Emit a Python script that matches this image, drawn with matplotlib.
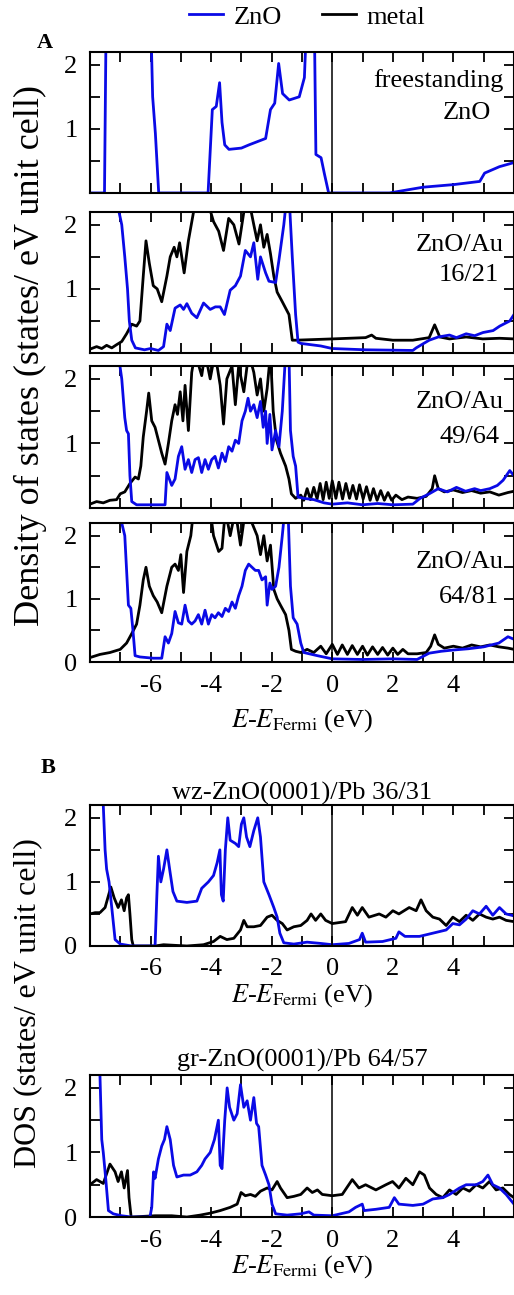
import matplotlib
matplotlib.use('Agg')
import matplotlib.pyplot as plt
from matplotlib.lines import Line2D

plt.rcParams['font.family'] = ['Liberation Serif', 'DejaVu Serif']
plt.rcParams['mathtext.fontset'] = 'stix'
plt.rcParams['axes.unicode_minus'] = False

BLUE = '#0a0ae6'

# ---- panel A1: freestanding ZnO ----
e_free = [-8.0, -7.52, -7.44, -6.06, -5.93, -5.84, -5.73, -4.10, -3.96, -3.83, -3.72, -3.64, -3.55,
          -3.41, -3.0, -2.75, -2.2, -2.04, -1.90, -1.77, -1.64, -1.42, -1.09, -0.92, -0.82, -0.60,
          -0.54, -0.37, -0.26, -0.12, 1.89, 3.0, 4.0, 4.87, 5.03, 5.52, 5.97]
zno_free = [0.0, 0.0, 4.0, 4.0, 1.5, 0.93, 0.0, 0.0, 1.3, 1.35, 1.72, 1.1, 0.75,
            0.68, 0.7, 0.75, 0.85, 1.3, 1.4, 2.02, 1.55, 1.45, 1.5, 1.8, 3.0, 3.0,
            0.6, 0.55, 0.3, 0.0, 0.0, 0.09, 0.13, 0.18, 0.31, 0.41, 0.47]

# ---- panel A2: ZnO/Au 16/21 ----
e_au1_zno = [-8.0, -7.04, -6.95, -6.85, -6.76, -6.70, -6.62, -6.50, -6.20, -6.00, -5.74, -5.57, -5.46,
             -5.35, -5.19, -5.02, -4.91, -4.80, -4.64, -4.47, -4.25, -4.03, -3.86, -3.70, -3.56, -3.37,
             -3.20, -3.03, -2.87, -2.70, -2.59, -2.46, -2.37, -2.20, -2.09, -1.87, -1.76, -1.60, -1.51,
             -1.42, -1.32, -1.21, -1.13, -1.04, -0.38, 0.0, 1.1, 2.66, 2.77, 3.2, 3.5, 3.87, 4.1, 4.42,
             4.7, 4.98, 5.31, 5.53, 5.86, 6.0]
zno_au1 = [4.0, 2.2, 2.0, 1.5, 1.0, 0.5, 0.2, 0.08, 0.05, 0.07, 0.04, 0.1, 0.45,
           0.35, 0.7, 0.75, 0.68, 0.77, 0.62, 0.55, 0.78, 0.68, 0.72, 0.72, 0.6, 0.98,
           1.05, 1.2, 1.6, 1.5, 1.72, 1.15, 1.5, 1.25, 1.12, 1.1, 1.45, 2.0, 2.4,
           2.4, 1.5, 0.6, 0.17, 0.15, 0.11, 0.07, 0.05, 0.04, 0.08, 0.2, 0.25, 0.28, 0.24, 0.3,
           0.27, 0.32, 0.35, 0.42, 0.5, 0.6]
e_au1_met = [-8.0, -7.78, -7.61, -7.45, -7.28, -7.12, -6.95, -6.79, -6.62, -6.46, -6.35, -6.24, -6.15,
             -6.04, -5.91, -5.78, -5.63, -5.46, -5.35, -5.22, -5.13, -5.04, -4.89, -4.75, -4.58, -4.36,
             -4.14, -3.92, -3.75, -3.59, -3.42, -3.25, -3.08, -2.92, -2.76, -2.59, -2.48, -2.37, -2.26,
             -2.15, -2.04, -1.93, -1.82, -1.65, -1.54, -1.43, -1.32, -1.21, 0.0, 1.1, 1.3, 1.44, 2.0,
             2.66, 3.2, 3.38, 3.55, 3.87, 4.42, 4.97, 5.52, 6.0]
met_au1 = [0.06, 0.1, 0.07, 0.12, 0.08, 0.13, 0.18, 0.3, 0.45, 0.42, 0.5, 1.2, 1.75,
           1.4, 1.05, 1.0, 0.8, 1.2, 1.5, 1.65, 1.5, 1.72, 1.25, 1.75, 2.2, 2.4,
           2.4, 2.05, 1.9, 1.6, 2.1, 2.0, 1.7, 2.2, 2.4, 2.0, 1.75, 2.0, 1.65,
           1.85, 1.55, 1.2, 0.95, 0.8, 0.7, 0.6, 0.2, 0.2, 0.22, 0.24, 0.28, 0.23, 0.2,
           0.2, 0.24, 0.44, 0.25, 0.22, 0.25, 0.22, 0.23, 0.22]

# ---- panel A3: ZnO/Au 49/64 ----
e_au2_zno = [-8.0, -7.01, -6.95, -6.85, -6.79, -6.73, -6.68, -6.62, -6.46, -5.52, -5.46, -5.30, -5.19,
             -5.08, -4.97, -4.86, -4.75, -4.64, -4.53, -4.42, -4.31, -4.20, -4.09, -3.98, -3.87, -3.76,
             -3.64, -3.53, -3.42, -3.31, -3.20, -3.09, -2.98, -2.87, -2.78, -2.70, -2.59, -2.48, -2.37,
             -2.28, -2.20, -2.15, -2.06, -1.99, -1.87, -1.76, -1.65, -1.54, -1.43, -1.38, -1.29, -1.21,
             -1.13, -0.94, -0.61, -0.27, 0.0, 0.5, 1.0, 1.5, 2.0, 2.66, 2.9, 3.2, 3.5, 3.8, 4.1, 4.4,
             4.7, 4.9, 5.2, 5.45, 5.64, 5.86, 6.0]
zno_au2 = [4.0, 2.2, 2.0, 1.4, 1.2, 1.15, 0.5, 0.1, 0.05, 0.05, 0.55, 0.35, 0.45,
           0.8, 0.95, 0.6, 0.75, 0.55, 0.75, 0.78, 0.55, 0.75, 0.6, 0.75, 0.8, 0.62,
           0.85, 0.72, 0.95, 0.88, 1.05, 1.0, 1.35, 1.5, 1.7, 1.5, 1.6, 1.4, 1.65,
           1.25, 1.5, 1.0, 1.45, 0.9, 1.2, 0.95, 1.5, 2.4, 2.4, 1.2, 0.8, 0.65,
           0.17, 0.15, 0.13, 0.08, 0.06, 0.08, 0.05, 0.07, 0.05, 0.06, 0.15, 0.22, 0.3, 0.25, 0.32, 0.26,
           0.3, 0.27, 0.3, 0.35, 0.43, 0.58, 0.5]
e_au2_met = [-8.0, -7.78, -7.56, -7.34, -7.12, -7.0, -6.85, -6.68, -6.51, -6.40, -6.32, -6.24, -6.13,
             -6.06, -5.96, -5.85, -5.74, -5.63, -5.52, -5.41, -5.30, -5.19, -5.11, -5.02, -4.93, -4.86,
             -4.75, -4.64, -4.53, -4.31, -4.20, -4.03, -3.87, -3.70, -3.59, -3.48, -3.31, -3.20, -3.09,
             -2.92, -2.76, -2.59, -2.48, -2.37, -2.26, -2.15, -2.04, -1.95, -1.84, -1.71, -1.54, -1.43,
             -1.35, -1.21, -1.04, -0.94, -0.83, -0.72, -0.61, -0.50, -0.40, -0.30, -0.20, -0.10, 0.0,
             0.12, 0.22, 0.34, 0.45, 0.57, 0.68, 0.80, 0.90, 1.02, 1.13, 1.25, 1.36, 1.48, 1.60, 1.72,
             1.84, 1.96, 2.1, 2.3, 2.5, 2.8, 3.1, 3.3, 3.38, 3.5, 3.7, 4.0, 4.3, 4.6, 4.9, 5.2, 5.5,
             5.8, 6.0]
met_au2 = [0.06, 0.1, 0.08, 0.12, 0.13, 0.22, 0.25, 0.38, 0.48, 0.45, 0.65, 1.1, 1.5,
           1.78, 1.35, 1.25, 1.05, 0.85, 0.68, 1.0, 1.35, 1.6, 1.45, 1.8, 1.35, 1.9,
           1.2, 2.1, 2.4, 2.05, 2.4, 2.0, 2.4, 1.9, 1.3, 2.0, 2.2, 1.6, 2.2,
           1.8, 2.4, 2.1, 1.75, 2.0, 1.5, 1.85, 2.4, 1.5, 1.05, 0.85, 0.65, 0.45,
           0.22, 0.15, 0.2, 0.12, 0.3, 0.13, 0.32, 0.14, 0.38, 0.13, 0.4, 0.15, 0.42,
           0.15, 0.40, 0.14, 0.38, 0.15, 0.35, 0.14, 0.36, 0.14, 0.33, 0.12, 0.3, 0.12, 0.27, 0.12,
           0.24, 0.12, 0.2, 0.13, 0.17, 0.15, 0.18, 0.3, 0.5, 0.3, 0.25, 0.28, 0.24, 0.27, 0.23, 0.25, 0.2,
           0.24, 0.26]

# ---- panel A4: ZnO/Au 64/81 ----
e_au3_zno = [-8.0, -6.95, -6.85, -6.73, -6.65, -6.58, -6.51, -6.35, -5.91, -5.63, -5.52, -5.41, -5.30,
             -5.19, -5.08, -4.97, -4.86, -4.75, -4.64, -4.53, -4.42, -4.31, -4.20, -4.09, -3.98, -3.87,
             -3.76, -3.64, -3.53, -3.42, -3.31, -3.20, -3.09, -2.98, -2.87, -2.76, -2.65, -2.54, -2.43,
             -2.32, -2.20, -2.15, -2.06, -1.99, -1.87, -1.76, -1.65, -1.57, -1.46, -1.38, -1.29, -1.16,
             -1.04, -0.94, -0.49, 0.0, 1.0, 2.0, 2.8, 3.2, 3.6, 4.0, 4.5, 5.0, 5.5, 5.8, 6.0]
zno_au3 = [4.0, 2.2, 2.0, 0.9, 0.85, 0.5, 0.1, 0.08, 0.06, 0.06, 0.4, 0.3, 0.45,
           0.8, 0.62, 0.6, 0.9, 0.65, 0.6, 0.65, 0.75, 0.6, 0.82, 0.6, 0.75, 0.7,
           0.78, 0.72, 0.85, 0.8, 0.95, 0.85, 1.05, 1.2, 1.45, 1.55, 1.5, 1.45, 1.45,
           1.3, 1.35, 0.9, 1.25, 1.15, 1.2, 1.5, 2.0, 2.4, 2.4, 1.2, 0.7, 0.6,
           0.3, 0.15, 0.1, 0.05, 0.04, 0.05, 0.04, 0.14, 0.17, 0.19, 0.21, 0.24, 0.3, 0.4, 0.36]
e_au3_met = [-8.0, -7.67, -7.34, -7.0, -6.79, -6.62, -6.46, -6.35, -6.24, -6.15, -6.04, -5.91, -5.78,
             -5.63, -5.46, -5.30, -5.19, -5.08, -5.00, -4.91, -4.80, -4.67, -4.58, -4.03, -3.92, -3.75,
             -3.64, -3.53, -3.37, -3.20, -3.03, -2.87, -2.65, -2.48, -2.37, -2.26, -2.15, -2.04, -1.93,
             -1.82, -1.71, -1.54, -1.43, -1.35, -1.21, -1.04, -0.83, -0.61, -0.38, -0.20, 0.0,
             0.17, 0.33, 0.5, 0.66, 0.83, 1.0, 1.16, 1.33, 1.5, 1.66, 1.83, 2.0, 2.16, 2.33, 2.5, 2.8,
             3.1, 3.25, 3.38, 3.5, 3.7, 4.0, 4.3, 4.6, 4.9, 5.2, 5.5, 5.8, 6.0]
met_au3 = [0.07, 0.12, 0.15, 0.2, 0.3, 0.45, 0.6, 0.9, 1.3, 1.5, 1.2, 1.05, 0.95,
           0.78, 1.2, 1.5, 1.55, 1.45, 1.7, 1.1, 1.75, 2.0, 2.4, 2.4, 2.0, 1.75,
           1.8, 2.4, 2.0, 2.4, 1.85, 2.4, 2.2, 2.0, 1.7, 2.0, 1.6, 1.85, 1.15,
           1.0, 0.9, 0.75, 0.5, 0.2, 0.17, 0.15, 0.2, 0.15, 0.25, 0.13, 0.28,
           0.12, 0.27, 0.12, 0.26, 0.12, 0.25, 0.11, 0.24, 0.12, 0.23, 0.11, 0.22, 0.12, 0.2, 0.13, 0.13,
           0.15, 0.25, 0.43, 0.28, 0.22, 0.25, 0.22, 0.27, 0.24, 0.27, 0.24, 0.22, 0.2]

# ---- panel B1: wz-ZnO(0001)/Pb 36/31 ----
e_wz_zno = [-8.0, -7.56, -7.50, -7.45, -7.37, -7.28, -7.17, -7.0, -6.62, -5.85, -5.79, -5.74, -5.66,
            -5.57, -5.46, -5.37, -5.26, -5.13, -4.80, -4.47, -4.31, -4.20, -4.09, -3.92, -3.80, -3.71,
            -3.66, -3.60, -3.53, -3.45, -3.37, -3.20, -3.09, -3.00, -2.92, -2.83, -2.72, -2.59, -2.46,
            -2.37, -2.26, -2.09, -1.93, -1.82, -1.73, -1.60, -1.27, -0.83, -0.61, -0.38, 0.0, 0.55,
            0.9, 0.99, 1.1, 1.66, 2.1, 2.2, 2.4, 2.88, 3.32, 3.76, 3.98, 4.2, 4.42, 4.64, 4.86, 5.08,
            5.3, 5.52, 5.74, 6.0]
zno_wz = [4.0, 2.2, 1.5, 1.2, 1.0, 0.6, 0.1, 0.03, 0.0, 0.0, 0.8, 1.4, 1.0,
          1.2, 1.5, 1.2, 0.85, 0.7, 0.68, 0.7, 0.9, 0.95, 1.0, 1.1, 1.3, 1.5,
          0.8, 0.7, 1.5, 2.0, 1.65, 1.6, 1.55, 1.9, 2.0, 1.7, 1.55, 1.8, 2.0,
          1.7, 1.0, 0.8, 0.6, 0.45, 0.2, 0.05, 0.03, 0.06, 0.05, 0.04, 0.02, 0.04,
          0.1, 0.2, 0.06, 0.07, 0.12, 0.22, 0.15, 0.15, 0.2, 0.25, 0.35, 0.33, 0.42, 0.55, 0.5, 0.62,
          0.48, 0.6, 0.5, 0.47]
e_wz_met = [-8.0, -7.83, -7.67, -7.50, -7.31, -7.20, -7.07, -6.96, -6.87, -6.79, -6.73, -6.68, -6.62,
            -6.57, -5.85, -5.57, -4.80, -4.25, -3.92, -3.70, -3.48, -3.25, -3.03, -2.92, -2.81, -2.59,
            -2.37, -2.15, -1.99, -1.82, -1.65, -1.49, -1.27, -1.04, -0.83, -0.70, -0.55, -0.38, -0.22,
            0.0, 0.44, 0.66, 0.83, 0.99, 1.21, 1.55, 1.77, 2.0, 2.2, 2.54, 2.77, 2.93, 3.1, 3.32,
            3.54, 3.76, 3.98, 4.2, 4.42, 4.64, 4.86, 5.08, 5.3, 5.52, 5.74, 6.0]
met_wz = [0.5, 0.52, 0.52, 0.6, 0.92, 0.75, 0.6, 0.72, 0.55, 0.75, 0.8, 0.5, 0.1,
          0.0, 0.0, 0.02, 0.0, 0.02, 0.07, 0.15, 0.1, 0.12, 0.25, 0.4, 0.3, 0.3,
          0.32, 0.45, 0.48, 0.4, 0.35, 0.25, 0.3, 0.32, 0.4, 0.5, 0.4, 0.5, 0.4,
          0.35, 0.38, 0.6, 0.48, 0.6, 0.45, 0.5, 0.45, 0.55, 0.5, 0.6, 0.55, 0.72, 0.55, 0.45,
          0.42, 0.32, 0.45, 0.38, 0.48, 0.4, 0.5, 0.45, 0.42, 0.45, 0.4, 0.38]

# ---- panel B2: gr-ZnO(0001)/Pb 64/57 ----
e_gr_zno = [-8.0, -7.67, -7.61, -7.56, -7.48, -7.39, -7.23, -6.96, -6.62, -6.02, -5.96, -5.90, -5.85,
            -5.74, -5.63, -5.54, -5.46, -5.35, -5.24, -5.13, -4.91, -4.69, -4.47, -4.31, -4.20, -4.03,
            -3.89, -3.76, -3.70, -3.64, -3.55, -3.47, -3.39, -3.25, -3.14, -3.03, -2.92, -2.81, -2.70,
            -2.59, -2.50, -2.43, -2.32, -2.20, -2.09, -1.99, -1.87, -1.49, -1.04, -0.77, -0.61, 0.0,
            0.55, 0.77, 0.99, 1.05, 1.44, 1.88, 2.05, 2.2, 2.66, 3.0, 3.32, 3.65, 3.87, 4.2, 4.42,
            4.75, 4.97, 5.14, 5.3, 5.52, 5.74, 6.0]
zno_gr = [4.0, 2.2, 1.2, 1.0, 0.6, 0.1, 0.05, 0.02, 0.0, 0.0, 0.15, 0.7, 0.6,
          0.9, 1.1, 1.2, 1.4, 1.2, 0.8, 0.62, 0.65, 0.65, 0.7, 0.8, 0.9, 1.0,
          1.2, 1.5, 0.8, 0.75, 1.5, 2.0, 1.7, 1.5, 1.6, 2.05, 1.7, 1.8, 1.5,
          1.85, 1.45, 1.4, 0.8, 0.65, 0.5, 0.2, 0.05, 0.03, 0.05, 0.08, 0.03, 0.02,
          0.08, 0.15, 0.2, 0.1, 0.12, 0.15, 0.3, 0.2, 0.18, 0.2, 0.28, 0.3, 0.35, 0.45, 0.5,
          0.5, 0.55, 0.65, 0.5, 0.45, 0.35, 0.2]
e_gr_met = [-8.0, -7.78, -7.56, -7.34, -7.17, -7.07, -6.96, -6.87, -6.76, -6.71, -6.64, -5.85, -5.30,
            -4.80, -4.36, -4.03, -3.70, -3.37, -3.14, -3.01, -2.87, -2.70, -2.54, -2.37, -2.15, -1.99,
            -1.82, -1.71, -1.49, -1.27, -1.04, -0.83, -0.66, -0.49, -0.33, 0.0, 0.33, 0.66, 0.88,
            1.1, 1.44, 1.77, 1.99, 2.2, 2.43, 2.66, 2.88, 3.04, 3.21, 3.43, 3.65, 3.87, 4.09, 4.31,
            4.53, 4.75, 4.97, 5.19, 5.41, 5.63, 5.85, 6.0]
met_gr = [0.5, 0.58, 0.52, 0.82, 0.7, 0.55, 0.7, 0.45, 0.72, 0.3, 0.0, 0.02, 0.02,
          0.0, 0.03, 0.06, 0.1, 0.15, 0.2, 0.38, 0.33, 0.35, 0.32, 0.4, 0.45, 0.42,
          0.55, 0.45, 0.3, 0.32, 0.35, 0.45, 0.38, 0.42, 0.35, 0.33, 0.35, 0.58, 0.45,
          0.5, 0.42, 0.5, 0.55, 0.45, 0.6, 0.5, 0.7, 0.65, 0.45, 0.35, 0.3, 0.42, 0.35, 0.45,
          0.4, 0.5, 0.45, 0.55, 0.42, 0.45, 0.35, 0.3]

LBL = 19
fig = plt.figure(figsize=(5.14, 12.95), dpi=100)


def style(ax, xlab, zero):
    ax.set_xlim(-8, 6)
    ax.set_ylim(0, 2.2)
    ax.set_xticks([-6, -4, -2, 0, 2, 4])
    ax.set_xticks([-7, -5, -3, -1, 1, 3, 5], minor=True)
    ax.set_yticks([0, 1, 2])
    ax.set_yticks([0.5, 1.5], minor=True)
    ax.set_yticklabels(['0' if zero else '', '1', '2'])
    if not xlab:
        ax.set_xticklabels([])
    ax.tick_params(which='both', direction='in', top=True, right=True,
                   length=7, width=1.3, labelsize=LBL)
    ax.tick_params(axis='x', pad=9)
    ax.tick_params(axis='y', pad=9)
    for s in ax.spines.values():
        s.set_linewidth(1.5)
    ax.axvline(0, color='black', lw=1.1)


L, W = 0.175, 0.825
lw = 2.0

ax1 = fig.add_axes([L, 0.851, W, 0.1089])
ax1.plot(e_free, zno_free, color=BLUE, lw=lw)
style(ax1, False, False)
ax1.text(0.975, 0.80, 'freestanding', transform=ax1.transAxes, ha='right', va='center', fontsize=LBL)
ax1.text(0.945, 0.567, 'ZnO', transform=ax1.transAxes, ha='right', va='center', fontsize=LBL)

panels = [
    ([L, 0.7274, W, 0.1089], e_au1_zno, zno_au1, e_au1_met, met_au1, '16/21', 0.766, 0.553, False),
    ([L, 0.6077, W, 0.1097], e_au2_zno, zno_au2, e_au2_met, met_au2, '49/64', 0.746, 0.50, False),
    ([L, 0.4888, W, 0.1073], e_au3_zno, zno_au3, e_au3_met, met_au3, '64/81', 0.72, 0.468, True),
]
for pos, ez, dz, em, dm, lab, y1, y2, last in panels:
    ax = fig.add_axes(pos)
    ax.plot(em, dm, color='black', lw=lw)
    ax.plot(ez, dz, color=BLUE, lw=lw)
    style(ax, last, last)
    ax.text(0.975, y1, 'ZnO/Au', transform=ax.transAxes, ha='right', va='center', fontsize=LBL)
    ax.text(0.965, y2, lab, transform=ax.transAxes, ha='right', va='center', fontsize=LBL)
    if last:
        ax.set_xlabel(r'$E$-$E_{\rm Fermi}$ (eV)', fontsize=LBL, labelpad=8)

bpanels = [
    ([L, 0.2695, W, 0.1089], e_wz_zno, zno_wz, e_wz_met, met_wz, 'wz-ZnO(0001)/Pb 36/31', 4),
    ([L, 0.0602, W, 0.1097], e_gr_zno, zno_gr, e_gr_met, met_gr, 'gr-ZnO(0001)/Pb 64/57', 6),
]
for pos, ez, dz, em, dm, title, tpad in bpanels:
    ax = fig.add_axes(pos)
    ax.plot(em, dm, color='black', lw=lw)
    ax.plot(ez, dz, color=BLUE, lw=lw)
    style(ax, True, True)
    ax.set_title(title, fontsize=LBL, pad=tpad)
    ax.set_xlabel(r'$E$-$E_{\rm Fermi}$ (eV)', fontsize=LBL, labelpad=1)

fig.text(30 / 514, 1 - 355 / 1295, 'Density of states (states/ eV unit cell)', rotation=90,
         ha='center', va='center', fontsize=26)
fig.text(28 / 514, 1 - 1003 / 1295, 'DOS (states/ eV unit cell)', rotation=90,
         ha='center', va='center', fontsize=23)
fig.text(45 / 514, 1 - 43 / 1295, 'A', fontsize=16, fontweight='bold', ha='center', va='center')
fig.text(48 / 514, 1 - 768 / 1295, 'B', fontsize=16, fontweight='bold', ha='center', va='center')

handles = [Line2D([], [], color=BLUE, lw=lw), Line2D([], [], color='black', lw=lw)]
fig.legend(handles, ['ZnO', 'metal'], loc='center', bbox_to_anchor=(0.598, 1 - 17 / 1295),
           ncol=2, frameon=False, fontsize=LBL, handlelength=1.3, handletextpad=0.4,
           columnspacing=1.5, borderpad=0)

fig.savefig('out.png', dpi=100)
